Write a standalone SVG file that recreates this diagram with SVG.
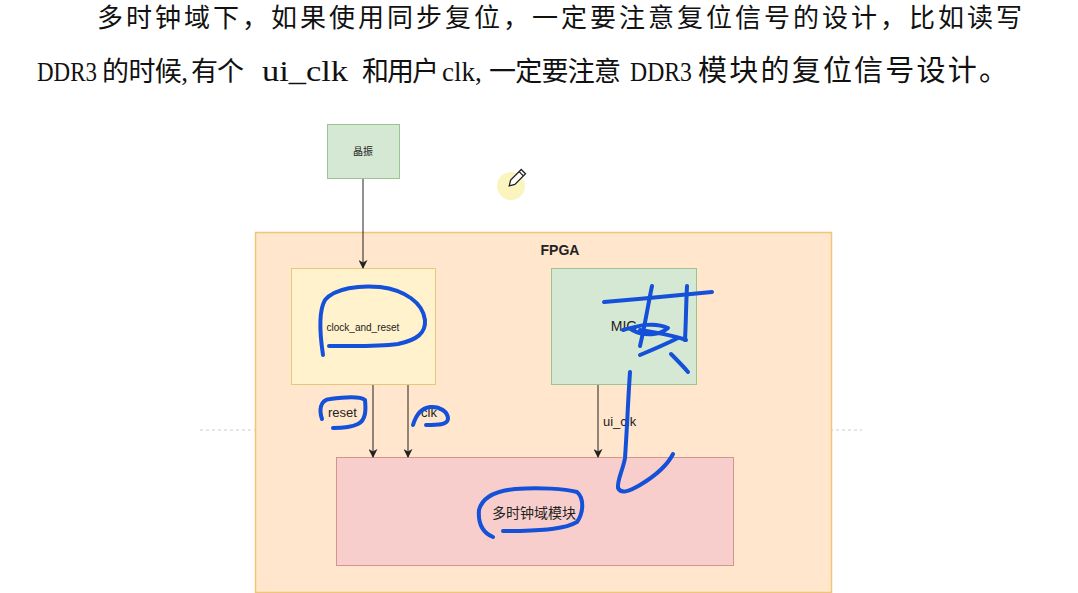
<svg xmlns="http://www.w3.org/2000/svg" width="1078" height="593" viewBox="0 0 1078 593">
<style>
.para{font-family:"Liberation Serif","Noto Sans CJK SC",serif;font-size:26px;fill:#111}
.lat{font-size:27px}
.cjk{font-size:27px}
.lbl{font-family:"Liberation Sans","Noto Sans CJK SC",sans-serif;fill:#222}
.conn{stroke:#222;stroke-width:1;fill:none;marker-end:url(#arr)}
.ink{stroke:#1450d8;stroke-width:4;fill:none;stroke-linecap:round;stroke-linejoin:round}
</style>
<defs>
<marker id="arr" viewBox="0 0 10 10" refX="9" refY="5" markerWidth="9" markerHeight="9" markerUnits="userSpaceOnUse" orient="auto">
<path d="M0,0 L10,5 L0,10 L3,5 Z" fill="#222"/>
</marker>
</defs>
<rect width="1078" height="593" fill="#fff"/>
<text class="para" x="97" y="27" textLength="925" lengthAdjust="spacing">多时钟域下，如果使用同步复位，一定要注意复位信号的设计，比如读写</text>
<text class="para" y="81"><tspan class="lat" x="37" textLength="60" lengthAdjust="spacingAndGlyphs">DDR3</tspan><tspan class="cjk" x="102" textLength="86" lengthAdjust="spacing">的时候,</tspan><tspan class="cjk" x="191" textLength="53" lengthAdjust="spacing">有个</tspan><tspan x="262" font-size="30" textLength="86" lengthAdjust="spacingAndGlyphs">ui_clk</tspan><tspan class="cjk" x="362" textLength="77" lengthAdjust="spacing">和用户</tspan><tspan class="lat" x="442">clk,</tspan><tspan class="cjk" x="489" textLength="132" lengthAdjust="spacing">一定要注意</tspan><tspan class="lat" x="630" textLength="62" lengthAdjust="spacingAndGlyphs">DDR3</tspan><tspan x="698" font-size="29" textLength="310" lengthAdjust="spacing">模块的复位信号设计。</tspan></text>
<line x1="200" y1="430" x2="862" y2="430" stroke="#ccc" stroke-width="1" stroke-dasharray="3,3"/>
<g id="fpga">
<rect x="255.5" y="232.5" width="576" height="360" fill="#ffe6cc" stroke="#f0c57a" stroke-width="1.5"/>
<text class="lbl" x="560" y="255" font-size="14" font-weight="bold" text-anchor="middle">FPGA</text>
</g>
<g id="osc">
<rect x="327.5" y="124.5" width="72" height="54" fill="#d5e8d4" stroke="#9cc48f"/>
<text class="lbl" x="363" y="155" font-size="10" text-anchor="middle">晶振</text>
</g>
<g id="clock_and_reset">
<rect x="291.5" y="268.5" width="144" height="116" fill="#fff2cc" stroke="#e5c97a"/>
<text class="lbl" x="363" y="331" font-size="10" text-anchor="middle">clock_and_reset</text>
</g>
<g id="mig">
<rect x="551.5" y="268.5" width="145" height="116" fill="#d5e8d4" stroke="#9cc48f"/>
<text class="lbl" x="624" y="331" font-size="14" text-anchor="middle">MIG</text>
</g>
<g id="multi_clk">
<rect x="336.5" y="457.5" width="397" height="108" fill="#f8cecc" stroke="#d4948e"/>
<text class="lbl" x="534" y="518" font-size="14" text-anchor="middle">多时钟域模块</text>
</g>
<g id="connectors">
<line class="conn" x1="363" y1="179" x2="363" y2="268"/>
<line class="conn" x1="373" y1="385" x2="373" y2="457"/>
<line class="conn" x1="408" y1="385" x2="408" y2="457"/>
<line class="conn" x1="598" y1="385" x2="598" y2="457"/>
<text class="lbl" x="328" y="417" font-size="13">reset</text>
<text class="lbl" x="421" y="417" font-size="13">clk</text>
<text class="lbl" x="603" y="426" font-size="13">ui_clk</text>
</g>
<g id="annotations">
<circle cx="511" cy="186" r="14" fill="#fbf3b8" opacity="0.9"/>
<g transform="translate(517,178) rotate(45)" stroke="#222" stroke-width="1.3" fill="#fff">
<path d="M-3,-9 L3,-9 L3,6 L0,11 L-3,6 Z"/>
<line x1="-3" y1="-6" x2="3" y2="-6"/>
</g>
<path class="ink" d="M323,355 C320,335 318,312 325,300 C335,288 360,285 380,287 C405,290 423,303 425,320 C426,333 417,340 398,344 C375,347 350,346 329,346"/>
<path class="ink" d="M322,419 C319,410 320,400 330,399 C345,397 360,396 365,400 C366,410 366,420 358,424 C350,428 340,428 333,428"/>
<path class="ink" d="M413,425 C416,415 421,408 430,407 C440,406 448,412 448,419 C447,425 438,425 426,425"/>
<path class="ink" d="M604,302 C640,299 680,295 712,292"/>
<path class="ink" d="M652,286 C648,305 645,325 640,346"/>
<path class="ink" d="M687,286 C686,305 686,322 685,340"/>
<path class="ink" d="M623,330 C640,325 655,322 668,328 C660,335 645,337 632,330 M640,330 C660,333 675,336 686,340"/>
<path class="ink" d="M640,355 C652,350 666,344 678,338"/>
<path class="ink" d="M671,354 C677,360 683,366 688,372"/>
<path class="ink" d="M630,372 C628,400 627,430 625,458 C623,470 617,480 618,488 C621,494 628,492 640,485 C655,476 667,466 673,454"/>
<path class="ink" d="M493,537 C481,532 478,522 479,510 C482,498 495,491 515,489 C540,487 565,489 577,492 C584,498 584,512 577,522 C565,529 545,530 520,531 L503,531"/>
</g>
</svg>
